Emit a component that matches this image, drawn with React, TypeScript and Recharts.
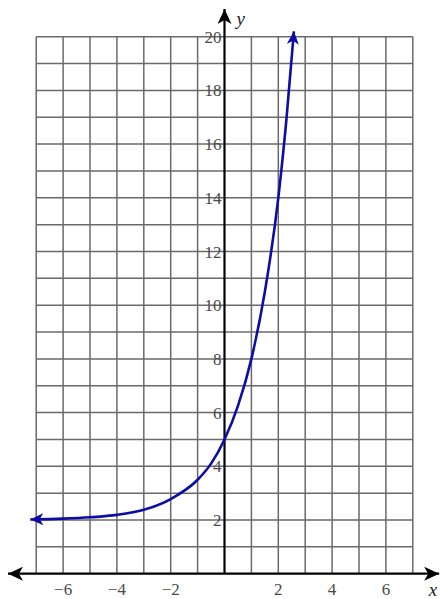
import { LineChart, Line, XAxis, YAxis, ReferenceLine, ReferenceDot } from "recharts";

// values
const curveX = [-7.22, -6, -5, -4, -3, -2, -1, -0.5, 0, 0.5, 1, 1.5, 2, 2.3, 2.58];
const curveY = [2.02, 2.05, 2.1, 2.19, 2.38, 2.78, 3.5, 4.1, 5, 6.25, 8, 10.5, 14, 16.9, 20.2];

const xTicks = [-6, -4, -2, 2, 4, 6];
const yTicks = [2, 4, 6, 8, 10, 12, 14, 16, 18, 20];
const xGrid = [-7, -6, -5, -4, -3, -2, -1, 1, 2, 3, 4, 5, 6, 7];
const yGrid = [1, 2, 3, 4, 5, 6, 7, 8, 9, 10, 11, 12, 13, 14, 15, 16, 17, 18, 19, 20];

const data = curveX.map((x, i) => ({ x, y: curveY[i] }));

const GRID = "#6a6a6a";
const BLUE = "#0c0ca6";
const FONT = "'Liberation Serif', 'Times New Roman', serif";

const minus = (v: number) => (v < 0 ? "\u2212" + Math.abs(v) : String(v));

// text placed at a data point, shifted by dx/dy pixels
const label =
  (text: string, dx: number, dy: number, anchor: string, opts: any = {}) =>
  (p: any) =>
    (
      <text
        x={p.cx + dx}
        y={p.cy + dy}
        textAnchor={anchor}
        style={{
          fontFamily: FONT,
          fontSize: opts.size || 17,
          fontStyle: opts.italic ? "italic" : "normal",
          fill: opts.color || "#4a4a4a",
        }}
      >
        {text}
      </text>
    );

const arrowLine = (p: any) => (
  <line
    x1={p.x1}
    y1={p.y1}
    x2={p.x2}
    y2={p.y2}
    stroke="#000"
    strokeWidth={2.2}
    markerStart={p.both ? "url(#ahBlack)" : undefined}
    markerEnd="url(#ahBlack)"
  />
);

export default function App() {
  return (
    <div style={{ position: "absolute", left: 0, top: 0, background: "#fff" }}>
      <LineChart width={440} height={599} data={data} margin={{ top: 0, right: 0, bottom: 0, left: 0 }}>
        <defs>
          <marker
            id="ahBlack"
            markerUnits="userSpaceOnUse"
            markerWidth={16}
            markerHeight={14}
            viewBox="0 0 16 14"
            refX={15}
            refY={7}
            orient="auto-start-reverse"
          >
            <path d="M0,0 L15,7 L0,14 L4,7 Z" fill="#000" />
          </marker>
          <marker
            id="ahBlue"
            markerUnits="userSpaceOnUse"
            markerWidth={14}
            markerHeight={12}
            viewBox="0 0 14 12"
            refX={13}
            refY={6}
            orient="auto-start-reverse"
          >
            <path d="M0,0 L13,6 L0,12 L3.5,6 Z" fill={BLUE} />
          </marker>
        </defs>
        <XAxis type="number" dataKey="x" domain={[-8.346, 8.011]} hide allowDataOverflow />
        <YAxis type="number" dataKey="y" domain={[-0.942, 21.367]} hide allowDataOverflow />

        {xGrid.map((v) => (
          <ReferenceLine
            key={"gx" + v}
            segment={[
              { x: v, y: 0 },
              { x: v, y: 20 },
            ]}
            stroke={GRID}
            strokeWidth={1.5}
          />
        ))}
        {yGrid.map((v) => (
          <ReferenceLine
            key={"gy" + v}
            segment={[
              { x: -7, y: v },
              { x: 7, y: v },
            ]}
            stroke={GRID}
            strokeWidth={1.5}
          />
        ))}

        <ReferenceLine
          segment={[
            { x: -8.05, y: 0 },
            { x: 7.98, y: 0 },
          ]}
          shape={(p: any) => arrowLine({ ...p, both: true })}
        />
        <ReferenceLine
          segment={[
            { x: 0, y: 0 },
            { x: 0, y: 21.03 },
          ]}
          shape={arrowLine}
        />

        {yTicks.map((v) => (
          <ReferenceDot key={"ty" + v} x={0} y={v} r={0} shape={label(String(v), -3, 6, "end")} />
        ))}
        {xTicks.map((v) => (
          <ReferenceDot key={"tx" + v} x={v} y={0} r={0} shape={label(minus(v), 0, 21, "middle")} />
        ))}
        <ReferenceDot x={0} y={21.03} r={0} shape={label("y", 12, 16, "start", { italic: true, size: 19, color: "#222" })} />
        <ReferenceDot x={7.75} y={0} r={0} shape={label("x", 0, 22, "middle", { italic: true, size: 19, color: "#222" })} />

        <Line
          type="monotone"
          dataKey="y"
          stroke={BLUE}
          strokeWidth={2.6}
          dot={false}
          activeDot={false}
          isAnimationActive={false}
          markerStart="url(#ahBlue)"
          markerEnd="url(#ahBlue)"
        />
      </LineChart>
    </div>
  );
}
